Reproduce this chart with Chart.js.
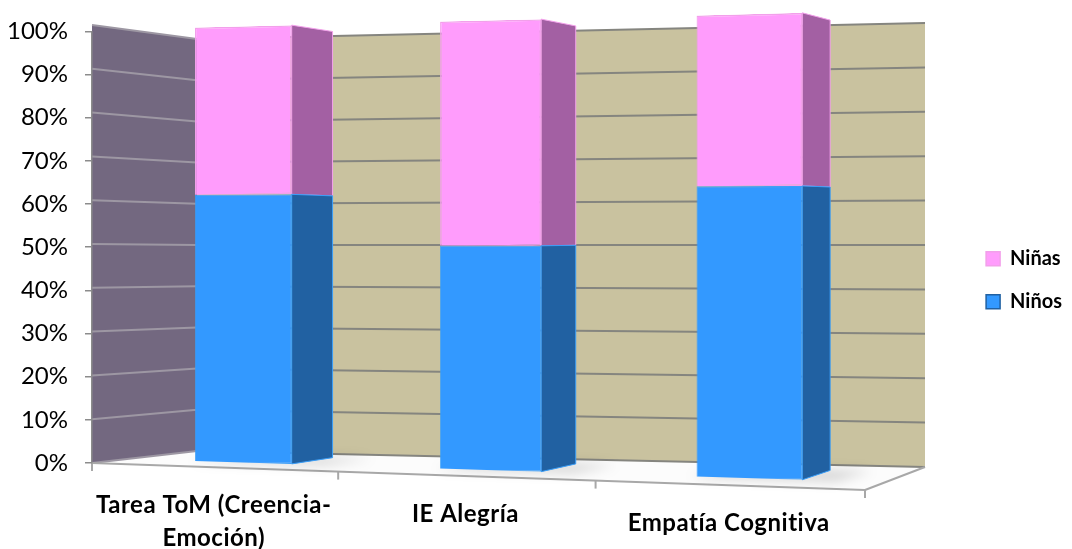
<!DOCTYPE html>
<html>
<head>
<meta charset="utf-8">
<script src="https://cdn.jsdelivr.net/npm/chart.js@4.4.1/dist/chart.umd.min.js"></script>
<style>
  html, body { margin: 0; padding: 0; background: #ffffff; }
  #wrap { width: 1072px; height: 549px; }
</style>
</head>
<body>
<div id="wrap"><canvas id="chart" width="1072" height="549"></canvas></div>
<script>
// Data
const categories = [['Tarea ToM (Creencia-', 'Emoción)'], 'IE Alegría', 'Empatía Cognitiva'];
const ninos = [61.5, 50, 63];
const ninas = [38.5, 50, 37];
const yTickLabels = ['0%', '10%', '20%', '30%', '40%', '50%', '60%', '70%', '80%', '90%', '100%'];

// 3D scene geometry: front plane (axis edge) and back plane (back wall),
// each as screen corners; depth 0 = front, 1 = back.
const PERSP = 1.07;
const FRONT = { l: 92, r: 865, tl: 25, tr: 5.7, bl: 463, br: 490 };
const BACK = { l: 197, r: 925, tl: 39, tr: 23, bl: 451, br: 467 };
const BAR_DEPTH = [0.3, 0.73];

function warp(fu) { return fu / (PERSP + (1 - PERSP) * fu); }
function onPlane(P, fu, fv) {
  const g = warp(fu);
  const x = P.l + g * (P.r - P.l);
  const top = P.tl + g * (P.tr - P.tl);
  const bot = P.bl + g * (P.br - P.bl);
  return { x: x, y: bot - fv * (bot - top) };
}
function project(fu, fv, d) {
  const a = onPlane(FRONT, fu, fv), b = onPlane(BACK, fu, fv);
  return { x: a.x + (b.x - a.x) * d, y: a.y + (b.y - a.y) * d };
}
function toUnit(chart, u, v) {
  const ca = chart.chartArea;
  return [(u - ca.left) / (ca.right - ca.left), (ca.bottom - v) / (ca.bottom - ca.top)];
}
function poly(ctx, pts) {
  ctx.beginPath();
  ctx.moveTo(pts[0].x, pts[0].y);
  for (let i = 1; i < pts.length; i++) ctx.lineTo(pts[i].x, pts[i].y);
  ctx.closePath();
}
function seg(ctx, a, b) {
  ctx.beginPath();
  ctx.moveTo(a.x, a.y);
  ctx.lineTo(b.x, b.y);
  ctx.stroke();
}

// Walls, floor, gridlines and category labels
const scenePlugin = {
  id: 'scene',
  beforeDraw(chart) {
    const ctx = chart.ctx;
    const ys = chart.scales.y;
    const xs = chart.scales.x;
    const ca = chart.chartArea;
    ctx.save();
    // left wall
    ctx.fillStyle = '#736880';
    poly(ctx, [project(0, 0, 0), project(0, 1, 0), project(0, 1, 1), project(0, 0, 1)]);
    ctx.fill();
    // back wall
    ctx.fillStyle = '#c9c29f';
    poly(ctx, [project(0, 0, 1), project(0, 1, 1), project(1, 1, 1), project(1, 0, 1)]);
    ctx.fill();
    // floor
    ctx.fillStyle = '#fcfcfc';
    poly(ctx, [project(0, 0, 0), project(1, 0, 0), project(1, 0, 1), project(0, 0, 1)]);
    ctx.fill();
    // gridlines
    ctx.lineWidth = 2;
    ys.ticks.forEach(t => {
      const fv = (ca.bottom - ys.getPixelForValue(t.value)) / (ca.bottom - ca.top);
      ctx.strokeStyle = '#9d97a3';
      seg(ctx, project(0, fv, 0), project(0, fv, 1));
      ctx.strokeStyle = '#85857f';
      seg(ctx, project(0, fv, 1), project(1, fv, 1));
    });
    // floor edges and category ticks
    ctx.strokeStyle = '#a8a8a8';
    ctx.lineWidth = 2;
    seg(ctx, project(0, 0, 0), project(1, 0, 0));
    seg(ctx, project(1, 0, 0), project(1, 0, 1));
    for (let i = 0; i <= categories.length; i++) {
      const fu = (xs.getPixelForValue(i - 0.5) - ca.left) / (ca.right - ca.left);
      const p = project(fu, 0, 0);
      seg(ctx, p, { x: p.x, y: p.y + 8 });
    }
    ctx.restore();
  },
  afterDraw(chart) {
    const ctx = chart.ctx;
    const xs = chart.scales.x;
    const ca = chart.chartArea;
    ctx.save();
    ctx.fillStyle = '#000000';
    ctx.font = 'bold 24px Lato';
    ctx.letterSpacing = '0.5px';
    ctx.textAlign = 'center';
    ctx.textBaseline = 'alphabetic';
    categories.forEach((label, i) => {
      const fu = (xs.getPixelForValue(i) - ca.left) / (ca.right - ca.left);
      const p = project(fu, 0, 0);
      const lines = Array.isArray(label) ? label : [label];
      lines.forEach((ln, k) => ctx.fillText(ln, p.x, p.y + 46 + k * 33));
    });
    ctx.restore();
  }
};

// Bars: side faces plus the library's own bar elements, mapped into the scene
const barsPlugin = {
  id: 'bars3d',
  beforeDatasetsDraw(chart) {
    // soft floor shadow behind each column
    const ctx = chart.ctx;
    const [d0, d1] = BAR_DEPTH;
    ctx.save();
    ctx.filter = 'blur(6px)';
    ctx.fillStyle = 'rgba(0,0,0,0.16)';
    chart.getDatasetMeta(0).data.forEach(el => {
      const p = el.getProps(['x', 'base', 'width'], true);
      const [fuL] = toUnit(chart, p.x - p.width / 2, p.base);
      const [fuR] = toUnit(chart, p.x + p.width / 2, p.base);
      poly(ctx, [project(fuL - 0.01, 0, d0 + 0.02), project(fuR + 0.04, 0, d0 + 0.02),
                 project(fuR + 0.05, 0, d1 + 0.05), project(fuL, 0, d1 + 0.05)]);
      ctx.fill();
    });
    ctx.restore();
  },
  beforeDatasetDraw(chart, args) {
    const ctx = chart.ctx;
    const ds = chart.data.datasets[args.index];
    const [d0, d1] = BAR_DEPTH;
    args.meta.data.forEach(el => {
      const p = el.getProps(['x', 'y', 'base', 'width'], true);
      const L = p.x - p.width / 2, R = p.x + p.width / 2;
      const T = Math.min(p.y, p.base), B = Math.max(p.y, p.base);
      const [fuL, fvT] = toUnit(chart, L, T);
      const [fuR, fvB] = toUnit(chart, R, B);
      const tl = project(fuL, fvT, d0), tr = project(fuR, fvT, d0);
      const br = project(fuR, fvB, d0), bl = project(fuL, fvB, d0);
      const trb = project(fuR, fvT, d1), brb = project(fuR, fvB, d1);
      ctx.save();
      // right side face
      ctx.fillStyle = ds.sideColor;
      poly(ctx, [tr, trb, brb, br]);
      ctx.fill();
      ctx.strokeStyle = ds.borderColor;
      ctx.lineWidth = 1;
      ctx.stroke();
      // front face
      poly(ctx, [tl, tr, br, bl]);
      ctx.clip();
      const a = (tr.x - tl.x) / (R - L), b = (tr.y - tl.y) / (R - L);
      const c = (br.x - tr.x) / (B - T), d = (br.y - tr.y) / (B - T);
      ctx.transform(a, b, c, d, tl.x - a * L - c * T, tl.y - b * L - d * T);
      el.draw(ctx, chart.chartArea);
      ctx.restore();
    });
    return false;
  }
};

new Chart(document.getElementById('chart'), {
  type: 'bar',
  data: {
    labels: categories,
    datasets: [
      {
        label: 'Niños', data: ninos,
        backgroundColor: '#3399ff', borderColor: '#3a9ef8', sideColor: '#2161a2',
        borderWidth: 1, borderSkipped: false,
        barPercentage: 0.5, categoryPercentage: 0.8
      },
      {
        label: 'Niñas', data: ninas,
        backgroundColor: '#ff9cfc', borderColor: '#f2a0ea', sideColor: '#a360a3',
        borderWidth: 1.5, borderSkipped: false,
        barPercentage: 0.5, categoryPercentage: 0.8
      }
    ]
  },
  options: {
    responsive: false,
    animation: false,
    events: [],
    layout: { padding: { left: 0, top: 25, bottom: 86, right: 0 } },
    scales: {
      x: { stacked: true, display: false },
      y: {
        stacked: true, min: 0, max: 100,
        afterFit(s) { s.width = 92; },
        ticks: {
          stepSize: 10, padding: 17, color: '#000000',
          font: { family: 'Lato', size: 24 },
          callback: (v, i) => yTickLabels[i]
        },
        grid: { drawOnChartArea: false, tickLength: 7, color: '#8c8c8c', lineWidth: 1.5 },
        border: { display: true, color: '#8c8c8c', width: 1.5 }
      }
    },
    plugins: {
      tooltip: { enabled: false },
      legend: {
        position: 'right',
        reverse: true,
        title: { display: true, text: ' ', padding: { top: 0, bottom: 58 } },
        labels: {
          boxWidth: 14, boxHeight: 14, padding: 23, color: '#000000',
          font: { family: 'Lato', size: 20, weight: 'bold' },
          generateLabels(chart) {
            const items = Chart.defaults.plugins.legend.labels.generateLabels(chart);
            items.forEach(it => {
              const ds = chart.data.datasets[it.datasetIndex];
              it.strokeStyle = it.datasetIndex === 0 ? ds.sideColor : ds.borderColor;
              it.lineWidth = 1.5;
            });
            return items;
          }
        }
      }
    }
  },
  plugins: [scenePlugin, barsPlugin]
});
</script>
</body>
</html>
